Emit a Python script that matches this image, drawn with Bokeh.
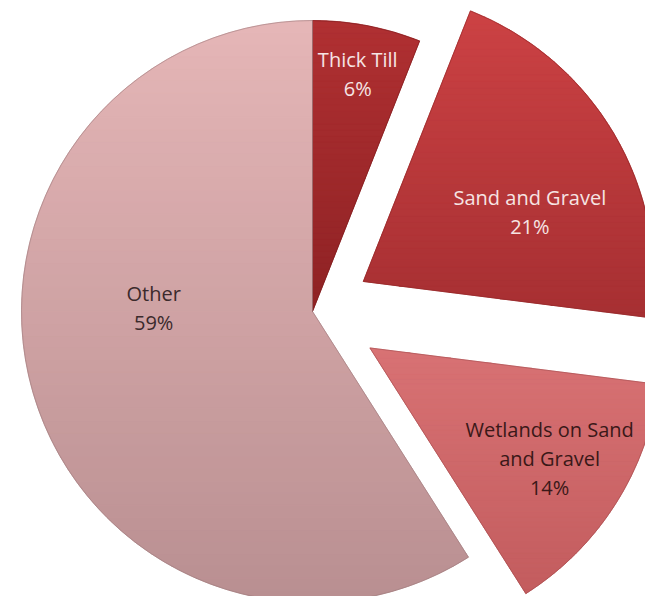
import numpy as np
from bokeh.plotting import figure
from bokeh.models import ColumnDataSource, Range1d
from bokeh.embed import file_html
from bokeh.resources import INLINE
from bokeh.core.properties import value

# ---- data ----
categories = ["Thick Till", "Sand and Gravel", "Wetlands on Sand and Gravel", "Other"]
label_lines = ["Thick Till", "Sand and Gravel", "Wetlands on Sand\nand Gravel", "Other"]
shares = [6, 21, 14, 59]

# ---- style ----
colors = ["#a62b2d", "#c03a3b", "#cf6668", "#d5a6a8"]          # base fill
grad_top = ["#b03032", "#cc4244", "#d87274", "#e5b6b7"]        # gradient top
grad_bot = ["#8e2224", "#a62f32", "#c35c5e", "#b98f91"]        # gradient bottom
edge_colors = ["#7a1c1e", "#8e2626", "#a04a4c", "#9a7a7c"]
text_colors = ["#f6e4e4", "#f6e4e4", "#3a1818", "#3b2a2c"]
explode = [0, 59, 68, 0]          # px pulled out along mid-angle
label_r = [0.83, 0.62, 0.725, 0.546]
label_turn = [0, 8, -0.8, 17.5]   # degrees clockwise nudge of label

W, H = 645, 596
cx, cy, R = 312, 285, 291

frac = np.array(shares, dtype=float) / sum(shares)
cum = np.concatenate([[0.0], np.cumsum(frac)])
start_cw = cum[:-1] * 360
end_cw = cum[1:] * 360
mid_cw = (start_cw + end_cw) / 2

start = np.radians(90 - start_cw)
end = np.radians(90 - end_cw)
mid = np.radians(90 - mid_cw)

ex = np.array(explode, dtype=float)
x = cx + ex * np.cos(mid)
y = cy + ex * np.sin(mid)

la = np.radians(90 - (mid_cw + np.array(label_turn)))
lx = x + np.array(label_r) * R * np.cos(la)
ly = y + np.array(label_r) * R * np.sin(la)

texts = [f"{l}\n{s}%" for l, s in zip(label_lines, shares)]

src = ColumnDataSource(dict(
    x=x, y=y, start=start, end=end, color=colors, edge=edge_colors,
    cat=categories, lx=lx, ly=ly, text=texts, tcolor=text_colors,
))


# ---- vertical gradient shading, computed from each wedge's geometry ----
def hex2rgb(h):
    h = h.lstrip("#")
    return np.array([int(h[i:i + 2], 16) for i in (0, 2, 4)], dtype=float)


def rgb2hex(c):
    c = np.clip(np.round(c), 0, 255).astype(int)
    return "#%02x%02x%02x" % tuple(c)


def clip_half(poly, y0, keep_above):
    out = []
    n = len(poly)
    for i in range(n):
        a = poly[i]
        b = poly[(i + 1) % n]
        ina = a[1] >= y0 if keep_above else a[1] <= y0
        inb = b[1] >= y0 if keep_above else b[1] <= y0
        if ina:
            out.append(a)
        if ina != inb:
            t = (y0 - a[1]) / (b[1] - a[1])
            out.append((a[0] + t * (b[0] - a[0]), y0))
    return out


bx, by, bc = [], [], []
NB = 48
for i in range(len(shares)):
    angs = np.linspace(start[i], end[i], 240)
    poly = [(x[i], y[i])] + [(x[i] + R * np.cos(a), y[i] + R * np.sin(a)) for a in angs]
    ys_ = [pt[1] for pt in poly]
    ymin, ymax = min(ys_), max(ys_)
    edges = np.linspace(ymin, ymax, NB + 1)
    ct, cb = hex2rgb(grad_top[i]), hex2rgb(grad_bot[i])
    for k in range(NB):
        part = clip_half(poly, edges[k], True)
        if len(part) < 3:
            continue
        part = clip_half(part, edges[k + 1], False)
        if len(part) < 3:
            continue
        t = ((edges[k] + edges[k + 1]) / 2 - ymin) / (ymax - ymin)
        col = rgb2hex(cb + (ct - cb) * t)
        bx.append([pt[0] for pt in part])
        by.append([pt[1] for pt in part])
        bc.append(col)

p = figure(width=W, height=H, output_backend="svg", toolbar_location=None,
           x_range=Range1d(0, W), y_range=Range1d(0, H),
           x_axis_location=None, y_axis_location=None,
           min_border=0, outline_line_color=None,
           background_fill_color="white", border_fill_color="white")
p.grid.visible = False

# base slices
p.wedge(x="x", y="y", radius=R, start_angle="start", end_angle="end",
        direction="clock", fill_color="color", line_color=None, source=src)
# gradient bands
p.patches(xs=bx, ys=by, fill_color=bc, line_color=bc, line_width=0.8)
# slice outlines
p.wedge(x="x", y="y", radius=R, start_angle="start", end_angle="end",
        direction="clock", fill_color=None, line_color="edge",
        line_width=1, line_alpha=0.55, source=src)

p.text(x="lx", y="ly", text="text", text_color="tcolor",
       text_font=value("Open Sans"), text_font_size="20px",
       text_align="center", text_baseline="middle", text_line_height=1.07,
       source=src)

open("out.html", "w").write(file_html(p, INLINE))
